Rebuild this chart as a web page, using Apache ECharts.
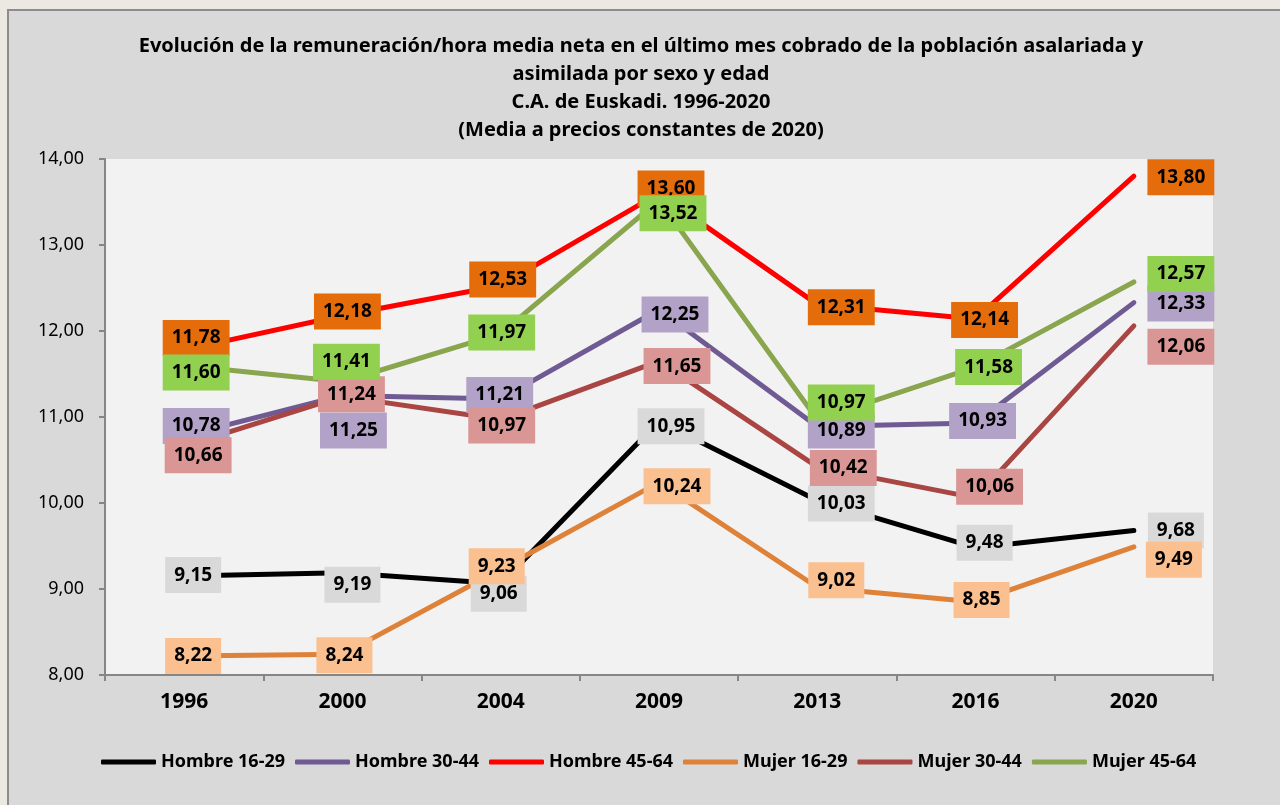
<!DOCTYPE html>
<html>
<head>
<meta charset="utf-8">
<script src="https://cdn.jsdelivr.net/npm/echarts@6/dist/echarts.min.js"></script>
<style>
  html, body { margin: 0; padding: 0; background: #ece9e3; overflow: hidden; }
  #bg { position: absolute; left: 7px; top: 9px; width: 1300px; height: 900px; background: #d9d9d9; border: 2px solid #8c8c8c; }
  #chart { position: absolute; left: 0; top: 0; width: 1280px; height: 805px; }
</style>
</head>
<body>
<div id="bg"></div>
<div id="chart"></div>
<script>
// datos
var years = ["1996", "2000", "2004", "2009", "2013", "2016", "2020"];
var seriesNames = ["Hombre 16-29", "Hombre 30-44", "Hombre 45-64", "Mujer 16-29", "Mujer 30-44", "Mujer 45-64"];
var hombre1629 = [9.15, 9.19, 9.06, 10.95, 10.03, 9.48, 9.68];
var hombre3044 = [10.78, 11.25, 11.21, 12.25, 10.89, 10.93, 12.33];
var hombre4564 = [11.78, 12.18, 12.53, 13.60, 12.31, 12.14, 13.80];
var mujer1629 = [8.22, 8.24, 9.23, 10.24, 9.02, 8.85, 9.49];
var mujer3044 = [10.66, 11.24, 10.97, 11.65, 10.42, 10.06, 12.06];
var mujer4564 = [11.60, 11.41, 11.97, 13.52, 10.97, 11.58, 12.57];

var titleText = "Evolución de la remuneración/hora media neta en el último mes cobrado de la población asalariada y\nasimilada por sexo y edad\nC.A. de Euskadi. 1996-2020\n(Media a precios constantes de 2020)";

// estilo
var lineColors = ["#000000", "#6f5a93", "#ff0000", "#de8239", "#a94543", "#89a54e"];
var labelColors = ["#d9d9d9", "#b3a2c7", "#e46c0a", "#fac090", "#d99694", "#92d050"];
// desplazamiento de cada etiqueta respecto al punto (px)
var labelOffsets = [
  [[9, -1], [10, 12], [-2, 10], [12, 5], [24, 3], [9, -5], [42, 0]],
  [[12, -10], [11, 35], [-1, -4], [16, 5], [24, 4], [7, -2], [47, 1]],
  [[12, -12], [5, -4], [2, -6], [12, -5], [24, 3], [9, 1], [47, 1]],
  [[9, 0], [2, 1], [-4, -3], [18, 4], [19, -7], [6, -2], [40, 13]],
  [[14, 9], [9, -2], [1, 6], [18, 5], [26, 1], [14, -11], [47, 21]],
  [[12, 7], [4, -20], [1, -1], [14, 13], [24, -17], [13, 0], [47, -8]]
];

var FONT = "Noto Sans";
var fmt = function (v) { return v.toFixed(2).replace(".", ","); };

var allData = [hombre1629, hombre3044, hombre4564, mujer1629, mujer3044, mujer4564];

var series = allData.map(function (arr, i) {
  return {
    name: seriesNames[i],
    type: "line",
    symbol: "circle",
    symbolSize: 1,
    showSymbol: true,
    itemStyle: { color: lineColors[i] },
    lineStyle: { color: lineColors[i], width: 5, cap: "round", join: "round" },
    label: {
      show: true,
      position: "inside",
      formatter: function (p) { return fmt(p.value); },
      backgroundColor: labelColors[i],
      color: "#000",
      fontFamily: FONT,
      fontWeight: "bold",
      fontSize: 19,
      padding: [9, 9, 8, 9]
    },
    data: arr.map(function (v, j) {
      return { value: v, label: { offset: labelOffsets[i][j] } };
    })
  };
});

var chart = echarts.init(document.getElementById("chart"));
var option = {
  animation: false,
  backgroundColor: "transparent",
  graphic: [{
    type: "text",
    x: 641,
    y: 32,
    style: {
      text: titleText,
      align: "center",
      verticalAlign: "top",
      fontFamily: FONT,
      fontWeight: "bold",
      fontSize: 20,
      lineHeight: 28,
      fill: "#000"
    }
  }],
  legend: {
    data: seriesNames,
    bottom: 29,
    left: 96,
    icon: "roundRect",
    itemWidth: 55,
    itemHeight: 5,
    itemGap: 10,
    textStyle: { fontFamily: FONT, fontWeight: "bold", fontSize: 18, color: "#000" }
  },
  grid: {
    left: 105,
    right: 67,
    top: 159,
    bottom: 130,
    show: true,
    backgroundColor: "#f2f2f2",
    borderWidth: 0
  },
  xAxis: {
    type: "category",
    data: years,
    boundaryGap: true,
    axisLine: { lineStyle: { color: "#868686", width: 2 } },
    axisTick: { show: true, length: 6, lineStyle: { color: "#868686", width: 2 } },
    axisLabel: { fontFamily: FONT, fontWeight: "bold", fontSize: 21, color: "#000", margin: 17 }
  },
  yAxis: {
    type: "value",
    min: 8,
    max: 14,
    interval: 1,
    axisLine: { show: true, lineStyle: { color: "#868686", width: 2 } },
    axisTick: { show: true, length: 6, lineStyle: { color: "#868686", width: 2 } },
    splitLine: { show: false },
    axisLabel: { fontFamily: FONT, fontSize: 18, color: "#000", margin: 21, formatter: fmt }
  },
  series: series
};
chart.setOption(option);
</script>
</body>
</html>
